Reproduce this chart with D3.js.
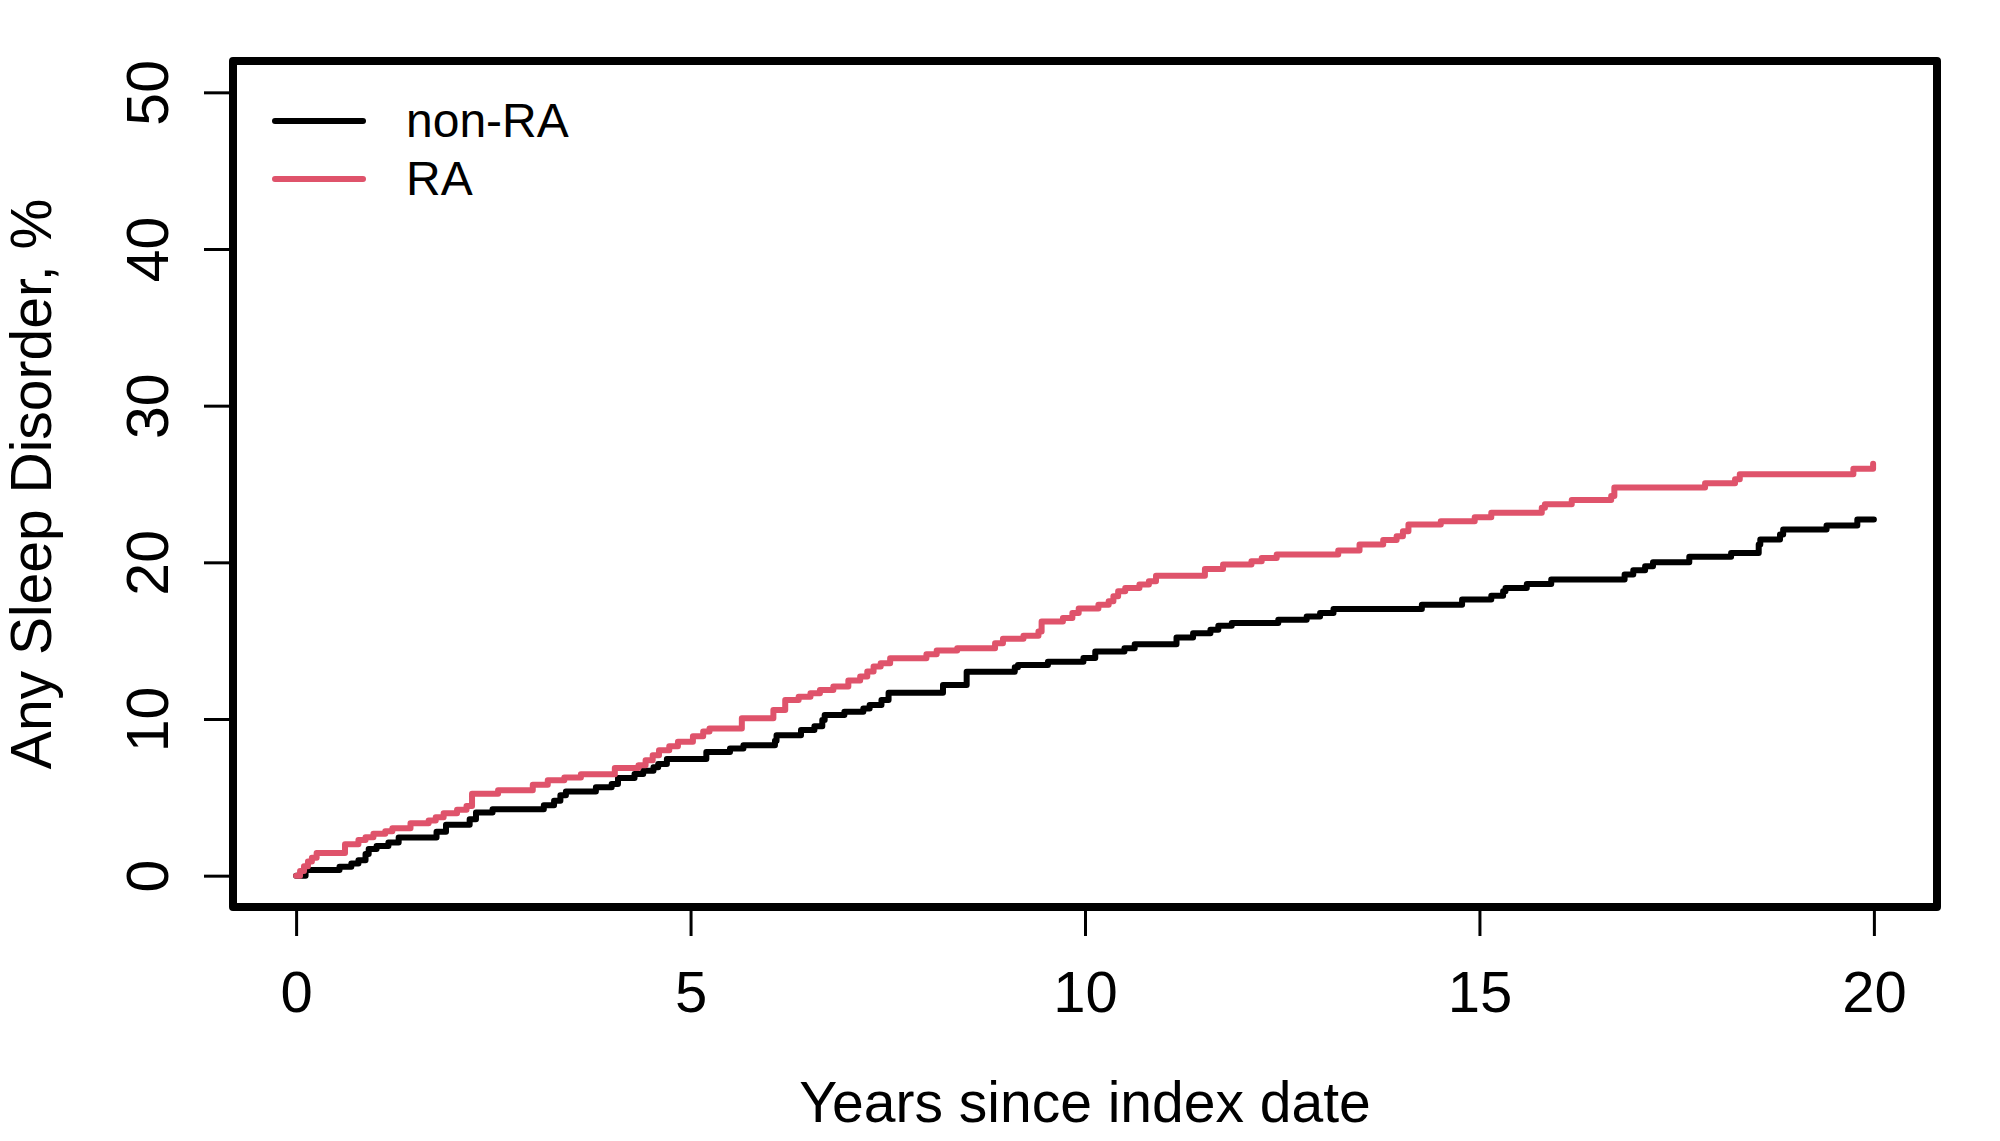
<!DOCTYPE html>
<html>
<head>
    <title>Any Sleep Disorder</title>
    <script src="https://d3js.org/d3.v7.min.js"></script>
    <style>
        body {
            margin: 0;
            background-color: #FFFFFF;
        }
        text {
            font-family: "Liberation Sans", Arial, Helvetica, sans-serif;
            fill: #000000;
        }
    </style>
</head>
<body>
    <div id="chart"></div>

    <script>
        // Cumulative incidence (years, %)
        var nonRaTime = [0, 0.12, 0.55, 0.7, 0.79, 0.88, 0.92, 1.02, 1.17, 1.3, 1.78, 1.9, 2.2, 2.28, 2.49,
            3.14, 3.27, 3.35, 3.42, 3.8, 4.0, 4.08, 4.29, 4.4, 4.53, 4.59, 4.7, 5.2, 5.5, 5.67,
            6.07, 6.09, 6.4, 6.57, 6.67, 6.7, 6.95, 7.19, 7.27, 7.42, 7.51, 8.2, 8.5, 9.11, 9.15,
            9.53, 9.98, 10.13, 10.5, 10.63, 11.16, 11.37, 11.59, 11.69, 11.86, 12.45, 12.81, 12.98,
            13.15, 14.27, 14.78, 15.15, 15.3, 15.33, 15.6, 15.91, 16.84, 16.95, 17.1, 17.2, 17.66,
            18.19, 18.54, 18.56, 18.81, 18.85, 19.4, 19.79, 20.0];
        var nonRaRisk = [0, 0.36, 0.57, 0.78, 0.99, 1.38, 1.7, 1.9, 2.12, 2.44, 2.8, 3.25, 3.6, 4.03, 4.24,
            4.5, 4.78, 5.14, 5.38, 5.64, 5.85, 6.24, 6.49, 6.7, 6.92, 7.13, 7.45, 7.9, 8.11, 8.33,
            8.61, 8.97, 9.29, 9.54, 9.93, 10.25, 10.46, 10.67, 10.89, 11.21, 11.68, 12.17, 13.02, 13.3, 13.45,
            13.66, 13.9, 14.31, 14.52, 14.77, 15.2, 15.48, 15.69, 15.95, 16.12, 16.33, 16.55, 16.76,
            17.02, 17.3, 17.62, 17.87, 18.15, 18.36, 18.62, 18.9, 19.22, 19.5, 19.75, 20.0, 20.35,
            20.6, 21.14, 21.46, 21.78, 22.1, 22.35, 22.74, 22.74];

        var raTime = [0, 0.05, 0.1, 0.15, 0.2, 0.26, 0.62, 0.79, 0.88, 0.98, 1.13, 1.22, 1.45, 1.68, 1.77,
            1.87, 2.04, 2.16, 2.23, 2.56, 3.0, 3.19, 3.4, 3.61, 4.04, 4.34, 4.43, 4.52, 4.6, 4.73,
            4.84, 5.03, 5.16, 5.24, 5.65, 6.05, 6.2, 6.37, 6.52, 6.64, 6.81, 7.0, 7.15, 7.24, 7.32,
            7.41, 7.53, 7.99, 8.12, 8.38, 8.86, 8.96, 9.22, 9.41, 9.45, 9.72, 9.84, 9.92, 10.17,
            10.3, 10.36, 10.42, 10.51, 10.69, 10.81, 10.9, 11.52, 11.75, 12.11, 12.24, 12.43, 13.21,
            13.48, 13.78, 13.95, 14.03, 14.1, 14.51, 14.94, 15.15, 15.79, 15.83, 16.17, 16.67, 16.71,
            17.86, 18.24, 18.3, 19.74, 19.99];
        var raRisk = [0, 0.3, 0.6, 0.9, 1.15, 1.45, 2.0, 2.28, 2.45, 2.67, 2.84, 3.03, 3.35, 3.52, 3.73,
            3.99, 4.2, 4.44, 5.23, 5.45, 5.81, 6.09, 6.26, 6.47, 6.87, 7.04, 7.36, 7.68, 8.0, 8.26,
            8.54, 8.9, 9.2, 9.39, 10.04, 10.57, 11.21, 11.42, 11.64, 11.85, 12.07, 12.45, 12.71, 13.03, 13.35,
            13.56, 13.88, 14.14, 14.37, 14.52, 14.84, 15.12, 15.31, 15.59, 16.23, 16.44, 16.76, 17.05, 17.3,
            17.51, 17.83, 18.15, 18.36, 18.58, 18.79, 19.15, 19.58, 19.86, 20.07, 20.28, 20.5, 20.75,
            21.14, 21.42, 21.67, 21.99, 22.42, 22.63, 22.88, 23.17, 23.49, 23.7, 23.98, 24.24, 24.77,
            25.05, 25.3, 25.62, 25.98, 26.3];

        var seriesNames = ["non-RA", "RA"];
        var seriesColors = ["#000000", "#DF536B"];
        var xTicks = [0, 5, 10, 15, 20];
        var yTicks = [0, 10, 20, 30, 40, 50];

        var width = 2000, height = 1141;
        // plot region (R style: data range padded by 4%)
        var plotLeft = 233, plotRight = 1937, plotTop = 61, plotBottom = 907;

        var svg = d3.select("#chart")
            .append("svg")
            .attr("width", width)
            .attr("height", height);

        var x = d3.scaleLinear().domain([-0.8, 20.8]).range([plotLeft, plotRight]);
        var y = d3.scaleLinear().domain([-2, 52]).range([plotBottom, plotTop]);

        var series = [
            nonRaTime.map(function(t, i) { return { t: t, v: nonRaRisk[i] }; }),
            raTime.map(function(t, i) { return { t: t, v: raRisk[i] }; })
        ];

        var stepLine = d3.line()
            .curve(d3.curveStepAfter)
            .x(function(d) { return x(d.t); })
            .y(function(d) { return y(d.v); });

        // curves
        series.forEach(function(s, i) {
            svg.append("path")
                .datum(s)
                .attr("d", stepLine)
                .attr("fill", "none")
                .attr("stroke", seriesColors[i])
                .attr("stroke-width", 6)
                .attr("stroke-linecap", "round")
                .attr("stroke-linejoin", "round");
        });

        // x axis
        var xAxis = svg.append("g")
            .attr("transform", "translate(0," + plotBottom + ")")
            .call(d3.axisBottom(x).tickValues(xTicks).tickSizeInner(29).tickSizeOuter(0));
        xAxis.select(".domain").remove();
        xAxis.selectAll("line").attr("stroke-width", 3);
        xAxis.selectAll("text")
            .attr("y", 105)
            .attr("dy", null)
            .style("font-size", "58px")
            .style("font-family", "'Liberation Sans', Arial, sans-serif");

        // y axis
        var yAxis = svg.append("g")
            .attr("transform", "translate(" + plotLeft + ",0)")
            .call(d3.axisLeft(y).tickValues(yTicks).tickSizeInner(29).tickSizeOuter(0));
        yAxis.select(".domain").remove();
        yAxis.selectAll("line").attr("stroke-width", 3);
        yAxis.selectAll("text")
            .attr("transform", "rotate(-90)")
            .attr("x", 0)
            .attr("y", -65)
            .attr("dy", null)
            .attr("text-anchor", "middle")
            .style("font-size", "59px")
            .style("font-family", "'Liberation Sans', Arial, sans-serif");

        // frame
        svg.append("rect")
            .attr("x", plotLeft)
            .attr("y", plotTop)
            .attr("width", plotRight - plotLeft)
            .attr("height", plotBottom - plotTop)
            .attr("fill", "none")
            .attr("stroke", "#000")
            .attr("stroke-width", 8)
            .attr("stroke-linejoin", "round");

        // axis titles
        svg.append("text")
            .attr("x", (plotLeft + plotRight) / 2)
            .attr("y", 1122)
            .attr("text-anchor", "middle")
            .style("font-size", "57px")
            .text("Years since index date");

        svg.append("text")
            .attr("transform", "translate(51," + ((plotTop + plotBottom) / 2) + ") rotate(-90)")
            .attr("text-anchor", "middle")
            .style("font-size", "57px")
            .text("Any Sleep Disorder, %");

        // legend
        var legendY = [121, 179];
        seriesNames.forEach(function(name, i) {
            svg.append("line")
                .attr("x1", 275)
                .attr("x2", 363)
                .attr("y1", legendY[i])
                .attr("y2", legendY[i])
                .attr("stroke", seriesColors[i])
                .attr("stroke-width", 6)
                .attr("stroke-linecap", "round");
            svg.append("text")
                .attr("x", 406)
                .attr("y", legendY[i] + 16)
                .style("font-size", "48px")
                .text(name);
        });
    </script>
</body>
</html>
